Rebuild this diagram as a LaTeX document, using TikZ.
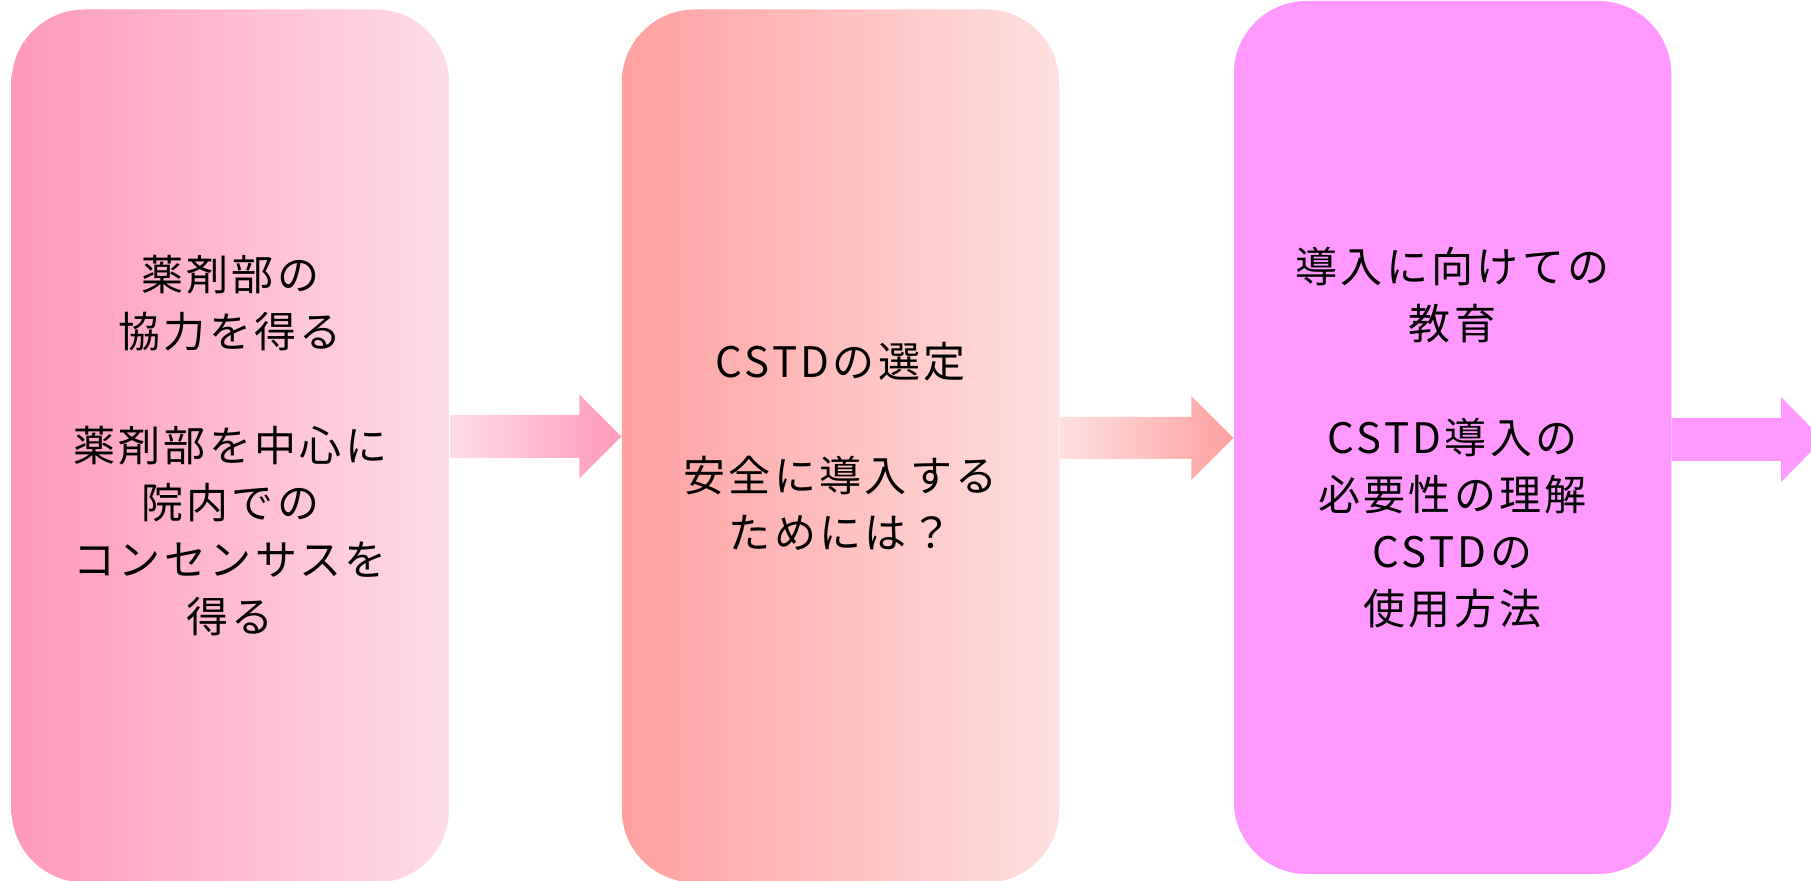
\documentclass[tikz,border=0pt]{standalone}
\usepackage{fontspec}
\setmainfont{Noto Sans CJK JP}[LetterSpace=8]
\usetikzlibrary{calc}
\definecolor{pkA}{RGB}{255,153,187}
\definecolor{pkB}{RGB}{255,221,230}
\definecolor{rdA}{RGB}{255,160,160}
\definecolor{rdB}{RGB}{255,224,224}
\definecolor{mg}{RGB}{255,153,255}
\tikzset{
  stagebox/.style={rectangle, rounded corners=36.5pt, inner sep=0pt,
    minimum width=218.75pt, minimum height=436.5pt, align=center,
    font=\fontsize{21pt}{28.5pt}\selectfont, text=black},
}
\begin{document}
\begin{tikzpicture}[x=0.5pt,y=-0.5pt]
\clip (0,0) rectangle (1811,881);
\fill[white] (0,0) rectangle (1811,881);
\node[stagebox, left color=pkA, right color=pkB] (b1) at (230.25,446)
  {薬剤部の\\協力を得る\\[28.5pt]薬剤部を中心に\\院内での\\コンセンサスを\\得る};
\node[stagebox, left color=rdA, right color=rdB] (b2) at (840.5,446)
  {CSTDの選定\\[28.5pt]安全に導入する\\ためには？};
\node[stagebox, fill=mg] (b3) at (1452.5,437.5)
  {導入に向けての\\教育\\[28.5pt]CSTD導入の\\必要性の理解\\CSTDの\\使用方法};
\coordinate (end) at (1823,439.5);
% arrow 1
\shade[left color=pkB, right color=pkA]
  ($(b1.east|-0,436.5)+(1,-21.5)$) -- ($(b2.west|-0,436.5)+(-42,-21.5)$)
  -- ($(b2.west|-0,436.5)+(-42,-42)$) -- (b2.west|-0,436.5)
  -- ($(b2.west|-0,436.5)+(-42,42)$) -- ($(b2.west|-0,436.5)+(-42,21.5)$)
  -- ($(b1.east|-0,436.5)+(1,21.5)$) -- cycle;
% arrow 2
\shade[left color=rdB, right color=rdA]
  ($(b2.east|-0,438)+(1,-21)$) -- ($(b3.west|-0,438)+(-42,-21)$)
  -- ($(b3.west|-0,438)+(-42,-42)$) -- (b3.west|-0,438)
  -- ($(b3.west|-0,438)+(-42,42)$) -- ($(b3.west|-0,438)+(-42,21)$)
  -- ($(b2.east|-0,438)+(1,21)$) -- cycle;
% arrow 3
\fill[mg]
  ($(b3.east|-end)+(0,-21.5)$) -- ($(end)+(-42,-21.5)$)
  -- ($(end)+(-42,-42.5)$) -- (end)
  -- ($(end)+(-42,42.5)$) -- ($(end)+(-42,21.5)$)
  -- ($(b3.east|-end)+(0,21.5)$) -- cycle;
\end{tikzpicture}
\end{document}
